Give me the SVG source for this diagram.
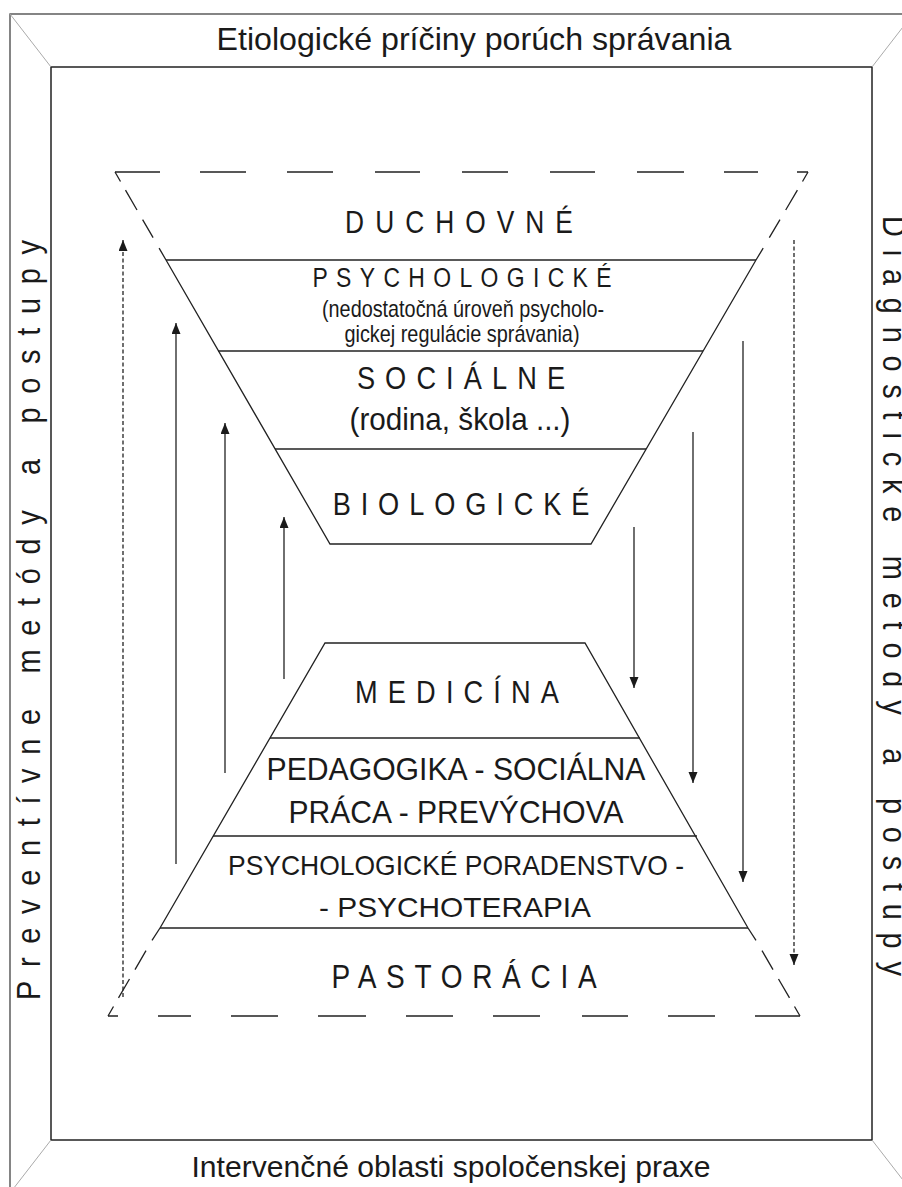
<svg xmlns="http://www.w3.org/2000/svg" width="902" height="1187" viewBox="0 0 902 1187">
<defs>
<style>
.t{font-family:"Liberation Sans",Arial,sans-serif;fill:#1a1a1a;text-anchor:middle}
.ln{stroke:#222;stroke-width:1.3;fill:none}
.ds{stroke:#222;stroke-width:1.3;fill:none}
.ar{stroke:#222;stroke-width:1.3;fill:none}
.ad{stroke:#222;stroke-width:1.3;fill:none;stroke-dasharray:4 2.5}
.diag{stroke:#aaa;stroke-width:1}
</style>
<marker id="ah" markerUnits="userSpaceOnUse" markerWidth="12" markerHeight="10" refX="11" refY="4.5" orient="auto">
<path d="M0,0 L11,4.5 L0,9 z" fill="#1a1a1a"/>
</marker>
</defs>
<rect width="902" height="1187" fill="#fff"/>
<g id="frame">
<rect x="10" y="14" width="903" height="1179" fill="none" stroke="#444" stroke-width="1.3"/>
<rect x="51" y="67" width="821" height="1073" fill="none" stroke="#222" stroke-width="1.5"/>
<line class="diag" x1="10" y1="14" x2="51" y2="67"/>
<line class="diag" x1="913" y1="14" x2="872" y2="67"/>
<line class="diag" x1="10" y1="1193" x2="51" y2="1140"/>
<line class="diag" x1="913" y1="1193" x2="872" y2="1140"/>
</g>
<g id="frame-labels">
<text class="t" x="474" y="50" font-size="32" textLength="515" lengthAdjust="spacingAndGlyphs">Etiologické príčiny porúch správania</text>
<text class="t" x="451" y="1177" font-size="30" textLength="519" lengthAdjust="spacingAndGlyphs">Intervenčné oblasti spoločenskej praxe</text>
<text class="t" style="text-anchor:start" transform="translate(40,1000) rotate(-90) scale(0.85,1)" font-size="34" textLength="894" lengthAdjust="spacing">Preventívne metódy a postupy</text>
<text class="t" style="text-anchor:start" transform="translate(883,216) rotate(90) scale(0.85,1)" font-size="34" textLength="894" lengthAdjust="spacing">Diagnosticke metody a postupy</text>
</g>
<g id="top-funnel">
<path class="ds" d="M115,172 H160 M200,172 H246 M287,172 H333 M375,172 H420 M462,172 H508 M550,172 H595 M637,172 H684 M724,172 H758 M797,172 H808"/>
<path class="ds" d="M115,172 L120.5,181.5 M125.5,190.2 L137,210 M142.6,219.6 L153.1,237.7 M159.1,248.1 L166,260"/>
<path class="ds" d="M808,172 L802.5,181.5 M797.4,190.2 L785.7,210 M780,219.6 L769.3,237.7 M763.2,248.1 L756,260"/>
<path class="ln" d="M166,260 L330,544 H591 L756,260"/>
<line class="ln" x1="166" y1="260" x2="756" y2="260"/>
<line class="ln" x1="218" y1="351" x2="703" y2="351"/>
<line class="ln" x1="275" y1="449" x2="646" y2="449"/>
</g>
<g id="duchovne"><text class="t" transform="translate(459,233) scale(0.85,1)" font-size="31" textLength="268" lengthAdjust="spacing">DUCHOVNÉ</text></g>
<g id="psychologicke">
<text class="t" transform="translate(462,287) scale(0.85,1)" font-size="27" textLength="352" lengthAdjust="spacing">PSYCHOLOGICKÉ</text>
<text class="t" x="463" y="317" font-size="24" textLength="282" lengthAdjust="spacingAndGlyphs">(nedostatočná úroveň psycholo-</text>
<text class="t" x="462" y="342" font-size="24" textLength="235" lengthAdjust="spacingAndGlyphs">gickej regulácie správania)</text>
</g>
<g id="socialne">
<text class="t" transform="translate(461,389) scale(0.85,1)" font-size="32" textLength="245" lengthAdjust="spacing">SOCIÁLNE</text>
<text class="t" x="460" y="430" font-size="32" textLength="221" lengthAdjust="spacingAndGlyphs">(rodina, škola ...)</text>
</g>
<g id="biologicke"><text class="t" transform="translate(461,515) scale(0.85,1)" font-size="32" textLength="302" lengthAdjust="spacing">BIOLOGICKÉ</text></g>
<g id="bottom-funnel">
<path class="ln" d="M160,928 L325,643 H585 L748,928"/>
<line class="ln" x1="270" y1="738" x2="640" y2="738"/>
<line class="ln" x1="213" y1="836" x2="697" y2="836"/>
<line class="ln" x1="160" y1="928" x2="748" y2="928"/>
<path class="ds" d="M108,1016 H118 M158,1016 H191 M231,1016 H278 M318,1016 H366 M406,1016 H453 M493,1016 H540 M582,1016 H628 M668,1016 H715 M755,1016 H800"/>
<path class="ds" d="M108,1016 L113.5,1006.5 M118.5,997.9 L129.5,979 M135,969.6 L146,950.6 M152,940.3 L160,928"/>
<path class="ds" d="M800,1016 L794.5,1006.5 M789.5,997.9 L778.5,979 M773,969.6 L762,950.6 M756,940.3 L748,928"/>
</g>
<g id="medicina"><text class="t" transform="translate(457,703) scale(0.85,1)" font-size="32" textLength="240" lengthAdjust="spacing">MEDICÍNA</text></g>
<g id="pedagogika">
<text class="t" x="456" y="780" font-size="31" textLength="379" lengthAdjust="spacingAndGlyphs">PEDAGOGIKA - SOCIÁLNA</text>
<text class="t" x="456" y="823" font-size="31" textLength="335" lengthAdjust="spacingAndGlyphs">PRÁCA - PREVÝCHOVA</text>
</g>
<g id="psychoterapia">
<text class="t" x="456" y="875" font-size="28" textLength="456" lengthAdjust="spacingAndGlyphs">PSYCHOLOGICKÉ PORADENSTVO -</text>
<text class="t" x="455" y="917" font-size="28" textLength="272" lengthAdjust="spacingAndGlyphs">- PSYCHOTERAPIA</text>
</g>
<g id="pastoracia"><text class="t" transform="translate(464,988) scale(0.85,1)" font-size="33" textLength="312" lengthAdjust="spacing">PASTORÁCIA</text></g>
<g id="connectors">
<line class="ad" x1="123" y1="997" x2="123" y2="240" marker-end="url(#ah)"/>
<line class="ar" x1="176" y1="864" x2="176" y2="323" marker-end="url(#ah)"/>
<line class="ar" x1="225" y1="773" x2="225" y2="423" marker-end="url(#ah)"/>
<line class="ar" x1="284" y1="679" x2="284" y2="517" marker-end="url(#ah)"/>
<line class="ad" x1="794" y1="240" x2="794" y2="965" marker-end="url(#ah)"/>
<line class="ar" x1="743" y1="341" x2="743" y2="882" marker-end="url(#ah)"/>
<line class="ar" x1="693" y1="432" x2="693" y2="783" marker-end="url(#ah)"/>
<line class="ar" x1="634" y1="527" x2="634" y2="688" marker-end="url(#ah)"/>
</g>
</svg>
